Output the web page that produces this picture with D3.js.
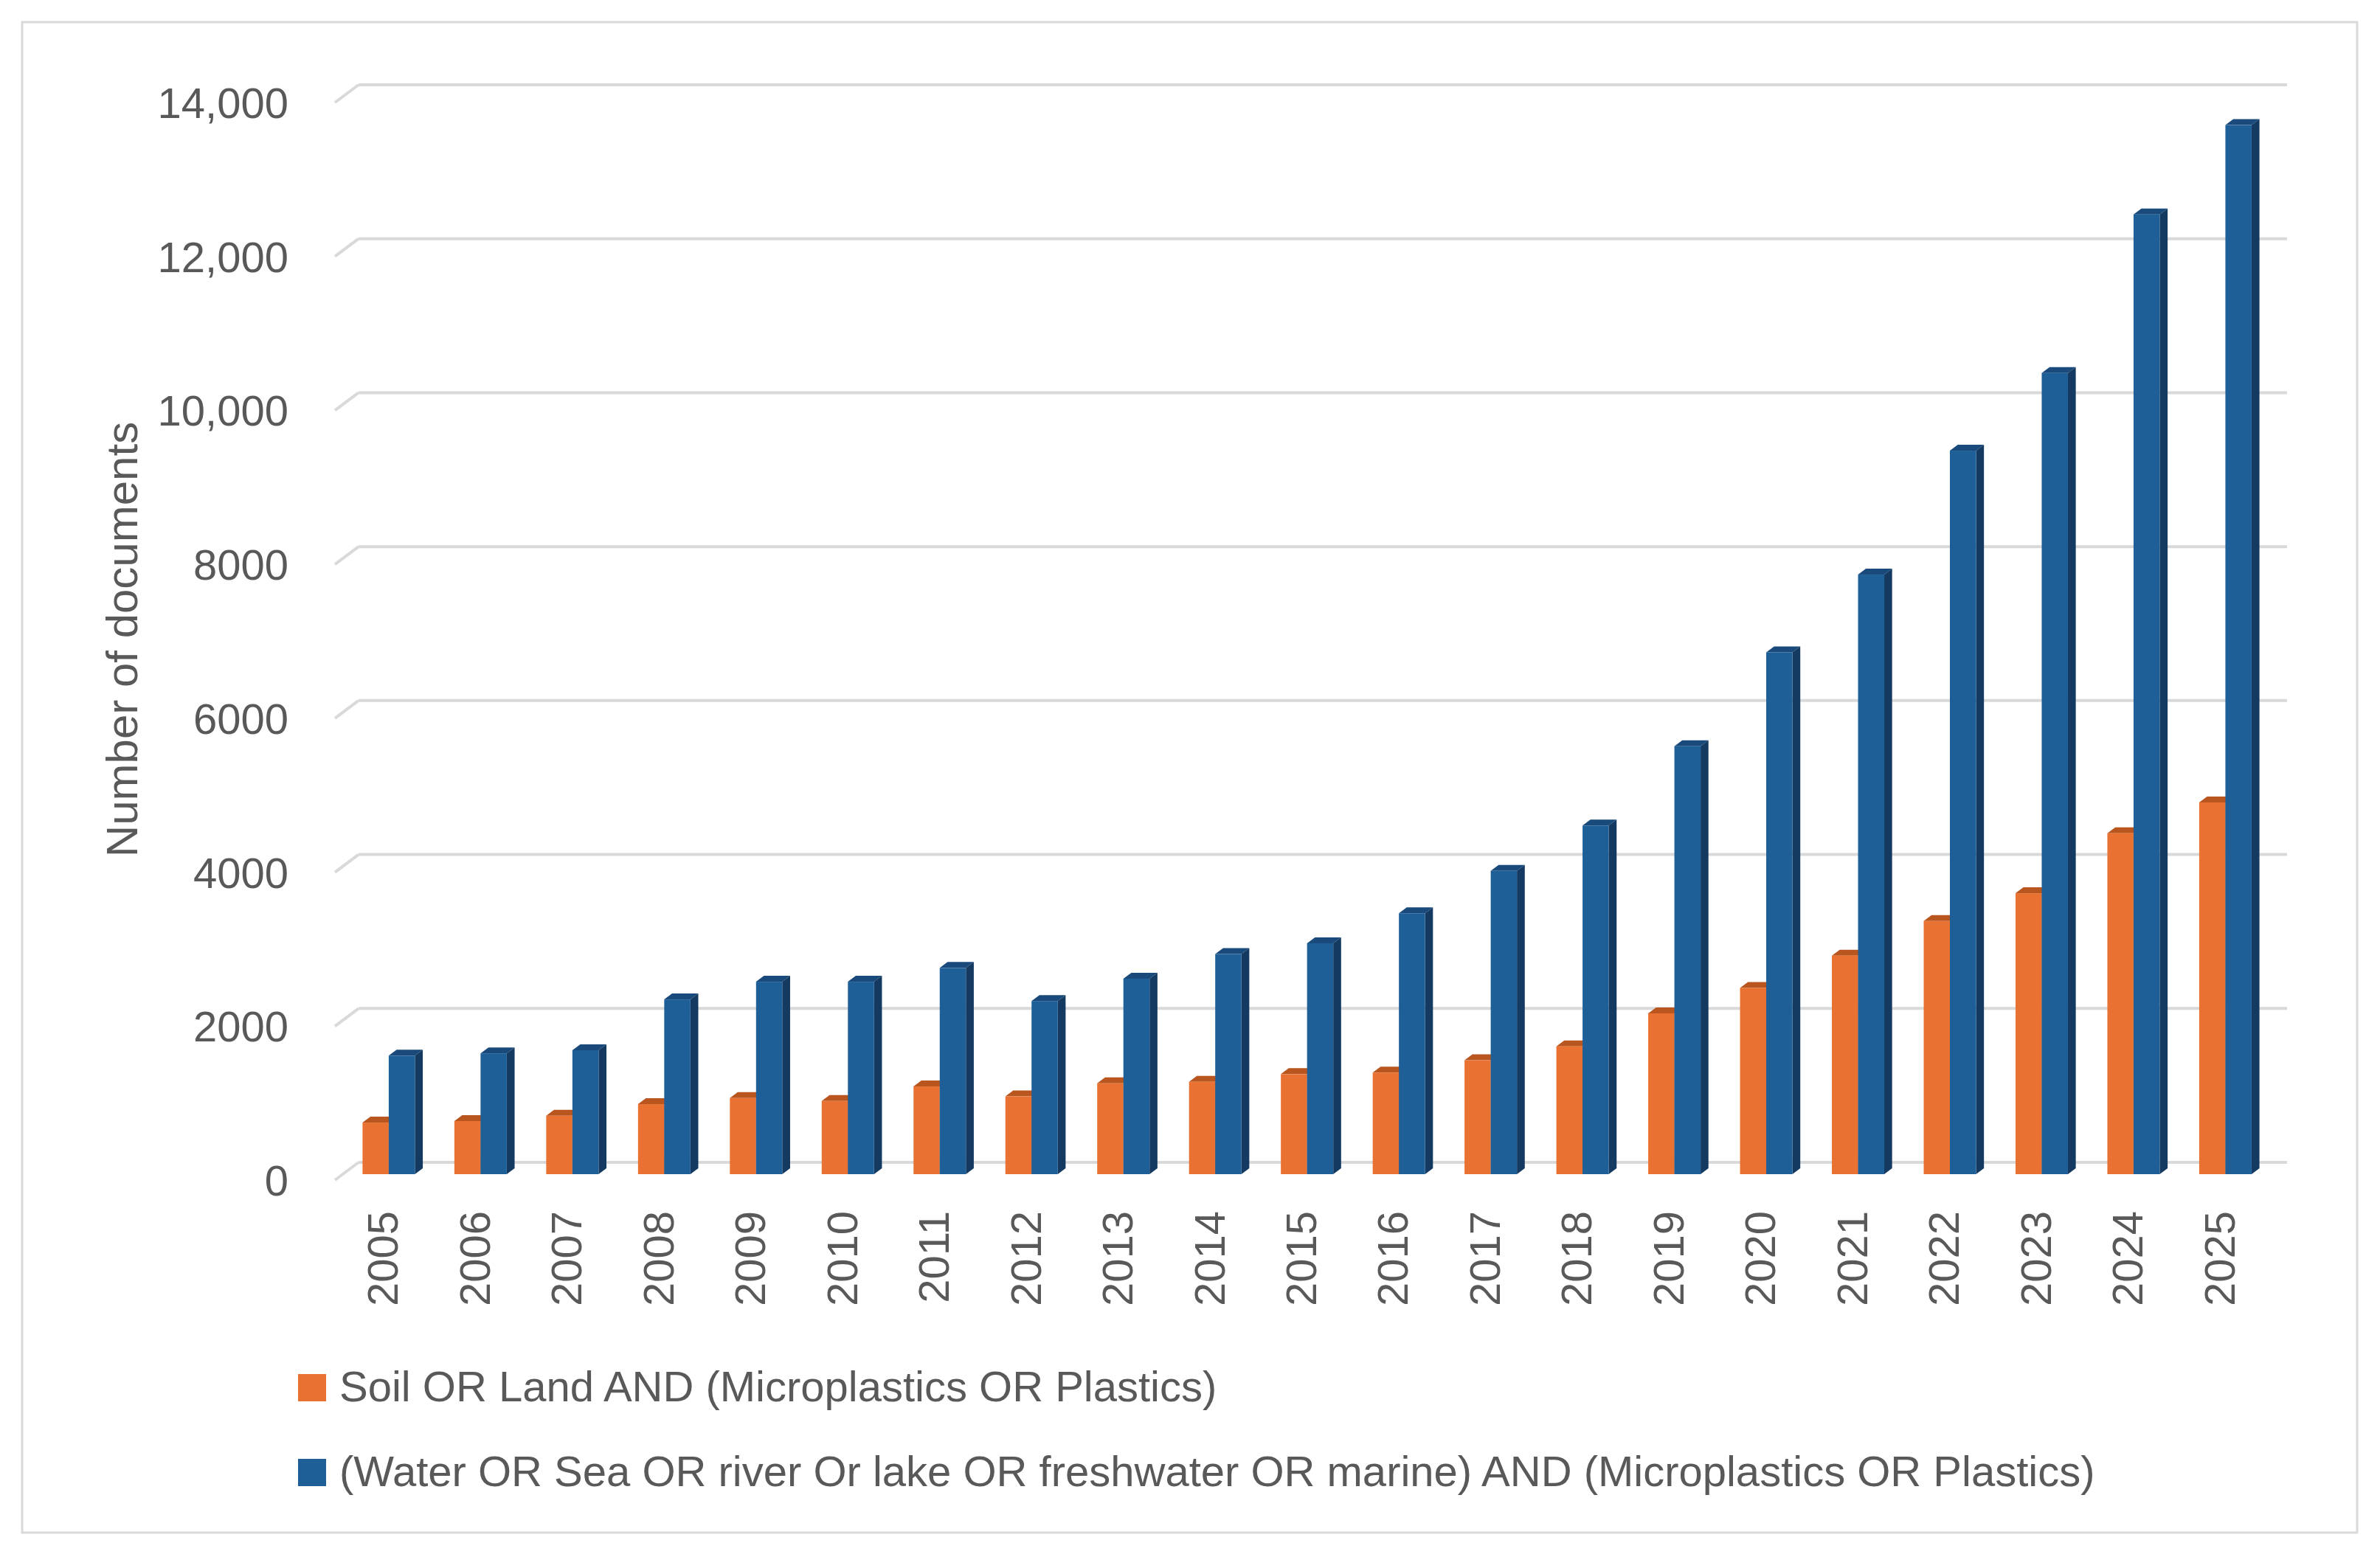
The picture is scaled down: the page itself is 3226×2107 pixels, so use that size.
<!DOCTYPE html>
<html>
<head>
<meta charset="utf-8">
<script src="https://cdn.jsdelivr.net/npm/d3@7"></script>
<style>
  body { margin: 0; background: #fff; }
  svg { display: block; }
</style>
</head>
<body>
<div id="chart"></div>
<script>
// data
const years = ["2005", "2006", "2007", "2008", "2009", "2010", "2011", "2012", "2013", "2014", "2015",
               "2016", "2017", "2018", "2019", "2020", "2021", "2022", "2023", "2024", "2025"];
const soil  = [670, 690, 760, 910, 990, 950, 1140, 1010, 1180, 1200, 1300,
               1320, 1480, 1660, 2090, 2420, 2840, 3290, 3650, 4430, 4830];
const water = [1540, 1570, 1610, 2270, 2500, 2500, 2680, 2250, 2540, 2860, 3000,
               3390, 3940, 4530, 5560, 6780, 7790, 9400, 10410, 12470, 13630];
const seriesNames = ["Soil OR Land AND (Microplastics OR Plastics)",
                     "(Water OR Sea OR river Or lake OR freshwater OR marine) AND (Microplastics OR Plastics)"];
const yTicks = [0, 2000, 4000, 6000, 8000, 10000, 12000, 14000];
const yTickLabels = ["0", "2000", "4000", "6000", "8000", "10,000", "12,000", "14,000"];

const width = 3226, height = 2107;
const font = "'Liberation Sans', Arial, sans-serif";
const textColor = "#595959";

// colours: front / top / side
const colors = [
  { front: "#E97132", top: "#B9561F", side: "#A34B1B" },
  { front: "#1F5F98", top: "#1A4A7B", side: "#143A61" }
];

const svg = d3.select("#chart").append("svg")
  .attr("width", width)
  .attr("height", height);

svg.append("rect")
  .attr("x", 30).attr("y", 30)
  .attr("width", 3165).attr("height", 2048)
  .attr("fill", "#fff")
  .attr("stroke", "#d9d9d9")
  .attr("stroke-width", 3);

// front plane scales; depth is drawn as an oblique offset
const DX = 32, DY = -24;
const x = d3.scaleBand().domain(years).range([454, 3068]);
const y = d3.scaleLinear().domain([0, 14000]).range([1600, 139]);

// gridlines on the back wall + side wall diagonals
const grid = svg.append("g").attr("class", "grid");
grid.selectAll(".diag")
  .data(yTicks)
  .enter().append("line")
  .attr("x1", x.range()[0]).attr("y1", d => y(d))
  .attr("x2", x.range()[0] + DX).attr("y2", d => y(d) + DY)
  .attr("stroke", "#d9d9d9").attr("stroke-width", 4);
grid.selectAll(".back")
  .data(yTicks)
  .enter().append("line")
  .attr("x1", x.range()[0] + DX).attr("y1", d => y(d) + DY)
  .attr("x2", x.range()[1] + DX).attr("y2", d => y(d) + DY)
  .attr("stroke", "#d9d9d9").attr("stroke-width", 4);

// y axis labels
const yAxis = svg.append("g")
  .attr("transform", "translate(391,2)")
  .call(d3.axisLeft(y).tickValues(yTicks).tickSize(0).tickPadding(0)
    .tickFormat((d, i) => yTickLabels[i]));
yAxis.select(".domain").remove();
yAxis.selectAll("text")
  .attr("font-family", font)
  .attr("font-size", 58)
  .attr("fill", textColor);

svg.append("text")
  .attr("transform", "translate(165,867) rotate(-90)")
  .attr("text-anchor", "middle")
  .attr("dy", "0.35em")
  .attr("font-family", font)
  .attr("font-size", 60)
  .attr("fill", textColor)
  .text("Number of documents");

// 3D bars: the bar sits from 1/3 to 2/3 of the depth
const barW = 35.5;
const bx = DX / 3, by = DY / 3;
const bars = svg.append("g").attr("class", "bars");

years.forEach((yr, i) => {
  const cx = x(yr) + x.bandwidth() / 2 + bx;
  [soil[i], water[i]].forEach((v, s) => {
    const x0 = cx - barW + s * barW, x1 = x0 + barW;
    const yb = y(0) + by, yt = y(v) + by;
    const c = colors[s];
    const g = bars.append("g");
    // top face
    g.append("path")
      .attr("d", `M${x0},${yt}L${x1},${yt}L${x1 + bx},${yt + by}L${x0 + bx},${yt + by}Z`)
      .attr("fill", c.top);
    // side face
    g.append("path")
      .attr("d", `M${x1},${yt}L${x1 + bx},${yt + by}L${x1 + bx},${yb + by}L${x1},${yb}Z`)
      .attr("fill", c.side);
    // front face
    g.append("rect")
      .attr("x", x0).attr("y", yt)
      .attr("width", barW).attr("height", yb - yt)
      .attr("fill", c.front);
  });
});

// x labels, rotated
svg.append("g").selectAll("text")
  .data(years)
  .enter().append("text")
  .attr("transform", d => `translate(${x(d) + x.bandwidth() / 2 + bx - 8},1642) rotate(-90)`)
  .attr("text-anchor", "end")
  .attr("dy", "0.35em")
  .attr("font-family", font)
  .attr("font-size", 58)
  .attr("fill", textColor)
  .text(d => d);

// legend
const legend = svg.append("g").selectAll("g")
  .data(seriesNames)
  .enter().append("g")
  .attr("transform", (d, i) => `translate(404,${1863 + i * 115})`);
legend.append("rect")
  .attr("width", 38).attr("height", 37)
  .attr("fill", (d, i) => colors[i].front);
legend.append("text")
  .attr("x", 56).attr("y", 37)
  .attr("font-family", font)
  .attr("font-size", 58)
  .attr("fill", textColor)
  .text(d => d);
</script>
</body>
</html>
